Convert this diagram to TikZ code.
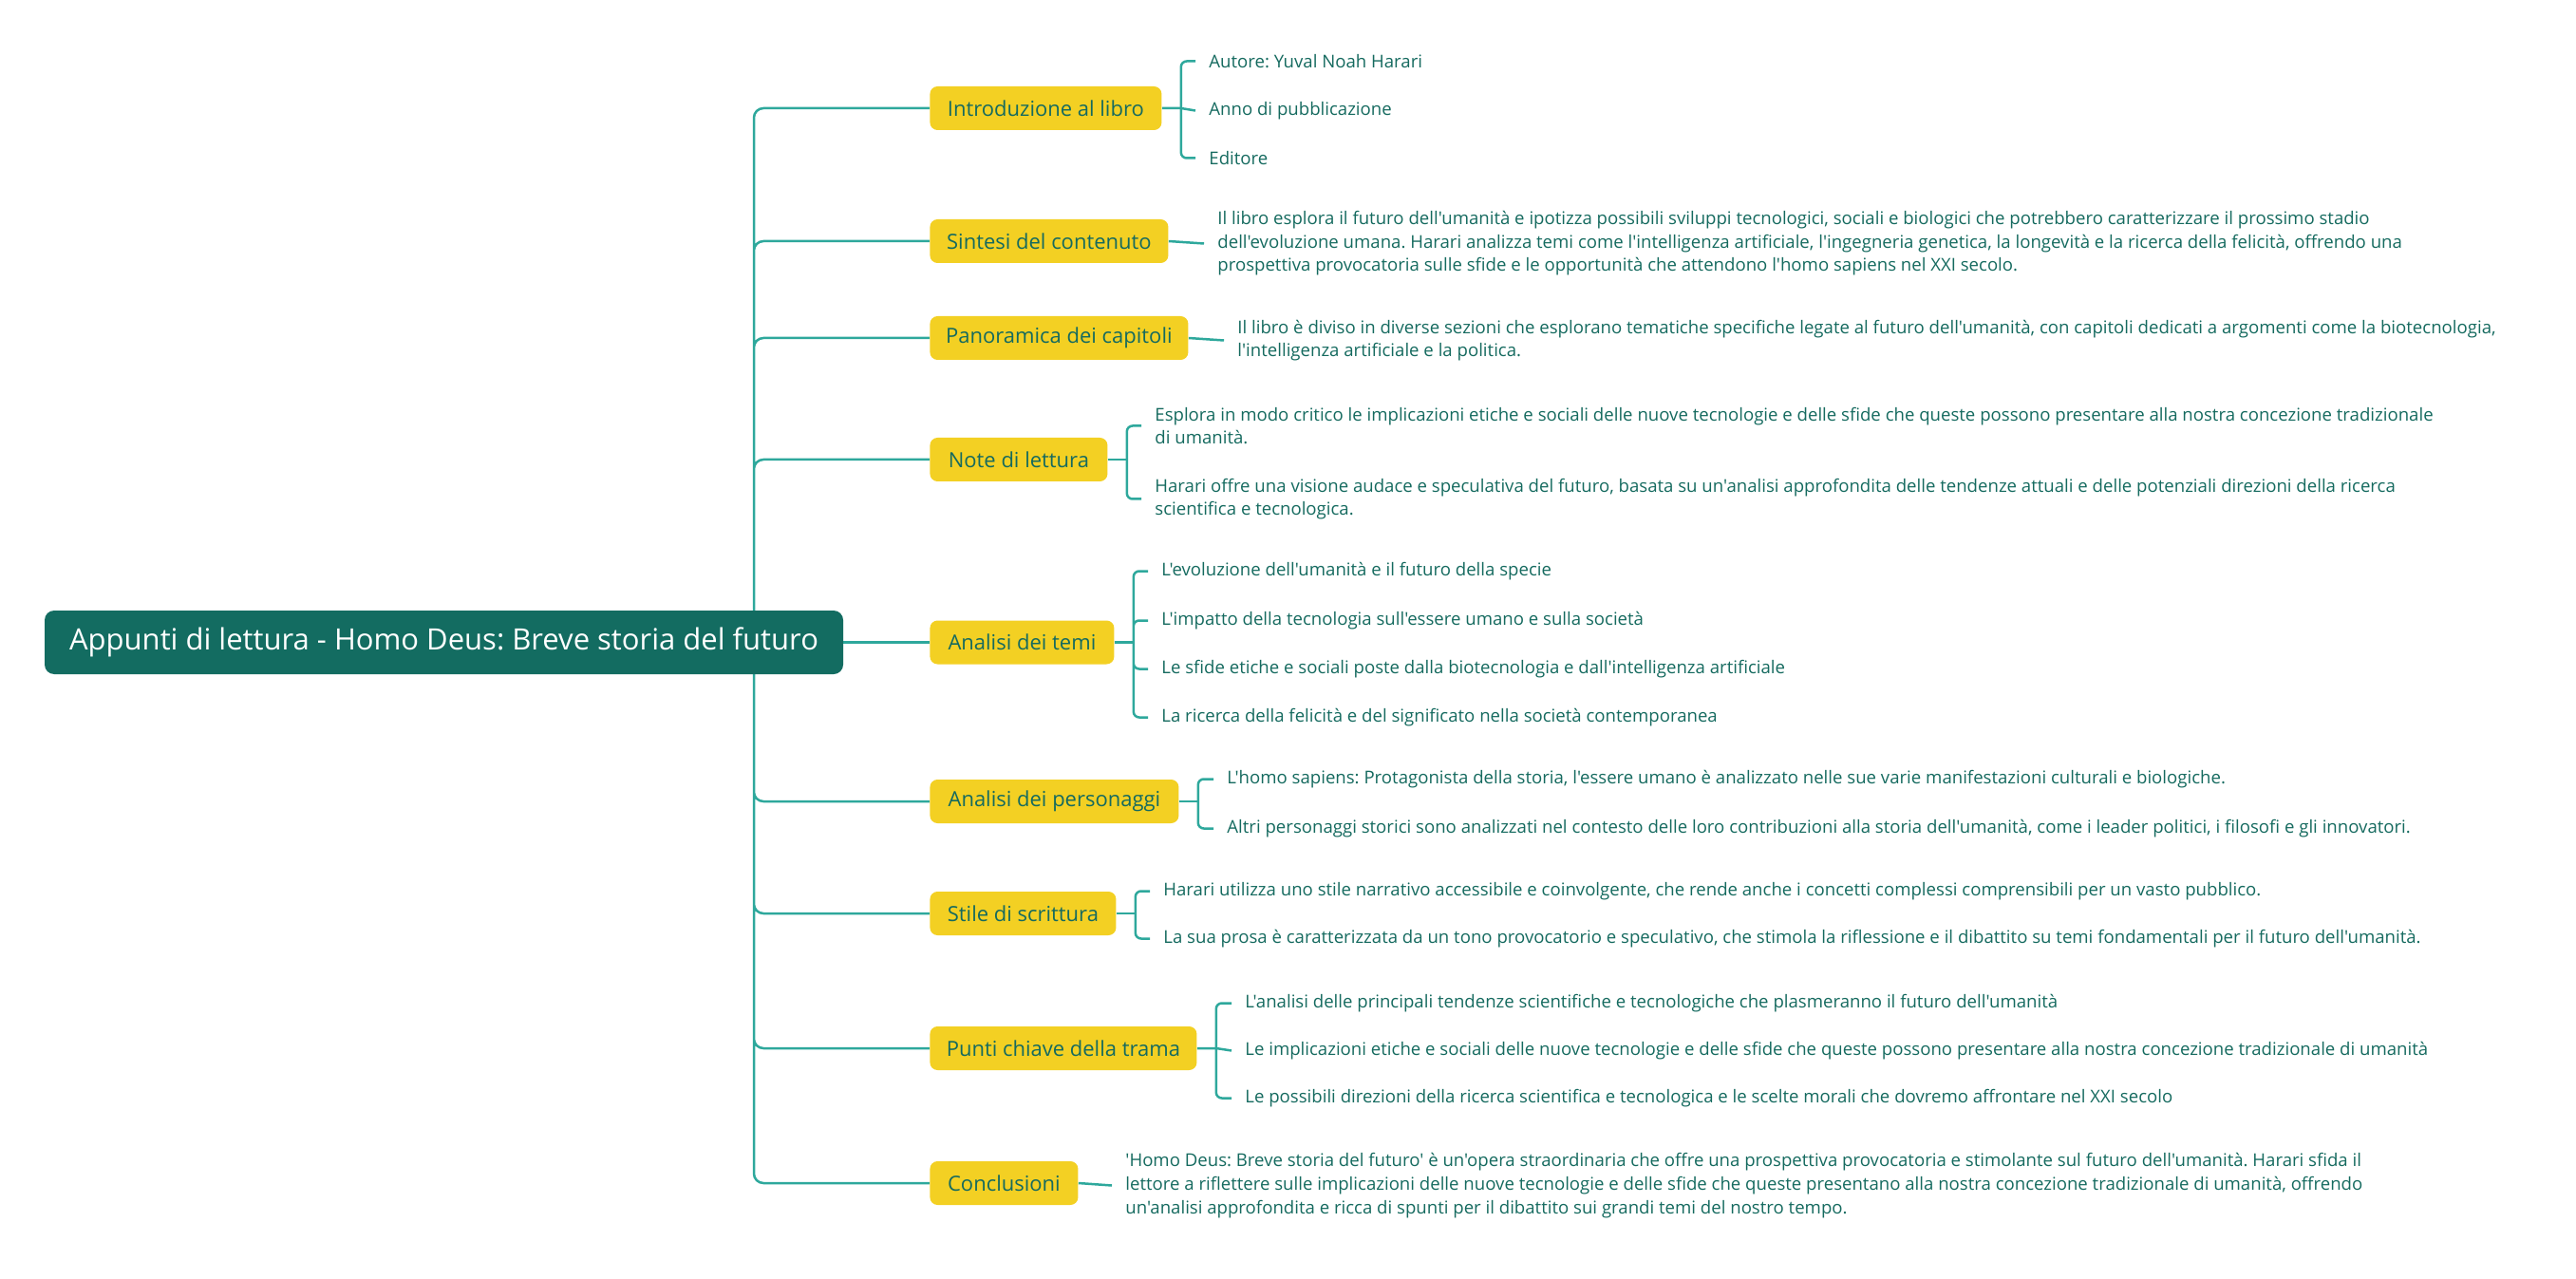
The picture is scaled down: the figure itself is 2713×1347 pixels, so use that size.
\documentclass[tikz,border=0pt]{standalone}
\usepackage{fontspec}
\setmainfont{Open Sans}[Ligatures=TeXOff]
\usetikzlibrary{backgrounds}
\definecolor{deepteal}{HTML}{136C61}
\definecolor{bookyellow}{HTML}{F3D023}
\definecolor{linkteal}{HTML}{2EA89C}
\definecolor{inkteal}{HTML}{156A5F}
\frenchspacing

\begin{document}
\begin{tikzpicture}[x=0.5pt, y=-0.5pt,
    link/.style={linkteal, line width=1.25pt},
    title/.style={fill=deepteal, text=white, rounded corners=5pt, minimum width=420.5pt, minimum height=33.5pt, font=\fontsize{15.5}{18}\selectfont},
    branch/.style={fill=bookyellow, text=inkteal, rounded corners=4pt, anchor=west, minimum height=23pt, inner xsep=0pt, font=\fontsize{11}{13}\selectfont},
    leaf/.style={text=inkteal, anchor=west, align=left, inner xsep=7pt, inner ysep=1pt, yshift=-1.25pt, font=\fontsize{9.3}{12.3}\selectfont}]
    \useasboundingbox (0,0) rectangle (2713,1347);
    \node[title] (root) at (467.5,676.5) {Appunti di lettura - Homo Deus: Breve storia del futuro};

    \node[branch, minimum width=122pt] (intro) at (979,114) {Introduzione al libro};
    \node[branch, minimum width=125.5pt] (sintesi) at (979,254) {Sintesi del contenuto};
    \node[branch, minimum width=136pt] (capitoli) at (979,356) {Panoramica dei capitoli};
    \node[branch, minimum width=93.5pt] (note) at (979,484) {Note di lettura};
    \node[branch, minimum width=97pt] (temi) at (979,676.5) {Analisi dei temi};
    \node[branch, minimum width=131pt] (personaggi) at (979,844) {Analisi dei personaggi};
    \node[branch, minimum width=98pt] (stile) at (979,962) {Stile di scrittura};
    \node[branch, minimum width=140.5pt] (trama) at (979,1104) {Punti chiave della trama};
    \node[branch, minimum width=78pt] (conclusioni) at (979,1246) {Conclusioni};

    \node[leaf] (intro1) at (1259,62) {Autore: Yuval Noah Harari};
    \node[leaf] (intro2) at (1259,114) {Anno di pubblicazione};
    \node[leaf] (intro3) at (1259,164) {Editore};

    \node[leaf] (sintesi1) at (1268,254) {Il libro esplora il futuro dell'umanità e ipotizza possibili sviluppi tecnologici, sociali e biologici che potrebbero caratterizzare il prossimo stadio\\dell'evoluzione umana. Harari analizza temi come l'intelligenza artificiale, l'ingegneria genetica, la longevità e la ricerca della felicità, offrendo una\\prospettiva provocatoria sulle sfide e le opportunità che attendono l'homo sapiens nel XXI secolo.};

    \node[leaf] (capitoli1) at (1289,356) {Il libro è diviso in diverse sezioni che esplorano tematiche specifiche legate al futuro dell'umanità, con capitoli dedicati a argomenti come la biotecnologia,\\l'intelligenza artificiale e la politica.};

    \node[leaf] (note1) at (1202,446) {Esplora in modo critico le implicazioni etiche e sociali delle nuove tecnologie e delle sfide che queste possono presentare alla nostra concezione tradizionale\\di umanità.};
    \node[leaf] (note2) at (1202,523) {Harari offre una visione audace e speculativa del futuro, basata su un'analisi approfondita delle tendenze attuali e delle potenziali direzioni della ricerca\\scientifica e tecnologica.};

    \node[leaf] (temi1) at (1209,599) {L'evoluzione dell'umanità e il futuro della specie};
    \node[leaf] (temi2) at (1209,651) {L'impatto della tecnologia sull'essere umano e sulla società};
    \node[leaf] (temi3) at (1209,702) {Le sfide etiche e sociali poste dalla biotecnologia e dall'intelligenza artificiale};
    \node[leaf] (temi4) at (1209,753) {La ricerca della felicità e del significato nella società contemporanea};

    \node[leaf] (personaggi1) at (1278,818) {L'homo sapiens: Protagonista della storia, l'essere umano è analizzato nelle sue varie manifestazioni culturali e biologiche.};
    \node[leaf] (personaggi2) at (1278,870) {Altri personaggi storici sono analizzati nel contesto delle loro contribuzioni alla storia dell'umanità, come i leader politici, i filosofi e gli innovatori.};

    \node[leaf] (stile1) at (1211,936) {Harari utilizza uno stile narrativo accessibile e coinvolgente, che rende anche i concetti complessi comprensibili per un vasto pubblico.};
    \node[leaf] (stile2) at (1211,986) {La sua prosa è caratterizzata da un tono provocatorio e speculativo, che stimola la riflessione e il dibattito su temi fondamentali per il futuro dell'umanità.};

    \node[leaf] (trama1) at (1297,1054) {L'analisi delle principali tendenze scientifiche e tecnologiche che plasmeranno il futuro dell'umanità};
    \node[leaf] (trama2) at (1297,1104) {Le implicazioni etiche e sociali delle nuove tecnologie e delle sfide che queste possono presentare alla nostra concezione tradizionale di umanità};
    \node[leaf] (trama3) at (1297,1154) {Le possibili direzioni della ricerca scientifica e tecnologica e le scelte morali che dovremo affrontare nel XXI secolo};

    \node[leaf] (conclusioni1) at (1171,1246) {'Homo Deus: Breve storia del futuro' è un'opera straordinaria che offre una prospettiva provocatoria e stimolante sul futuro dell'umanità. Harari sfida il\\lettore a riflettere sulle implicazioni delle nuove tecnologie e delle sfide che queste presentano alla nostra concezione tradizionale di umanità, offrendo\\un'analisi approfondita e ricca di spunti per il dibattito sui grandi temi del nostro tempo.};

    \begin{scope}[on background layer]
        \coordinate (trunk) at (794,676.5);
        \draw[link, rounded corners=5pt] (trunk) |- (intro.west) (trunk) |- (sintesi.west) (trunk) |- (capitoli.west) (trunk) |- (note.west)
            (trunk) |- (personaggi.west) (trunk) |- (stile.west) (trunk) |- (trama.west) (trunk) |- (conclusioni.west);
        \draw[link] (root.east) -- (temi.west);

        \draw[link] (intro.east) -- ++(20,0) coordinate (introb) -- (intro2.west);
        \draw[link, rounded corners=3pt] (introb) |- (intro1.west) (introb) |- (intro3.west);
        \draw[link] (sintesi.east) -- (sintesi1.west);
        \draw[link] (capitoli.east) -- (capitoli1.west);
        \draw[link] (note.east) -- ++(20,0) coordinate (noteb);
        \draw[link, rounded corners=3pt] (noteb) |- (note1.west) (noteb) |- (note2.west);
        \draw[link] (temi.east) -- ++(20,0) coordinate (temib);
        \draw[link, rounded corners=3pt] (temib) |- (temi1.west) (temib) |- (temi2.west) (temib) |- (temi3.west) (temib) |- (temi4.west);
        \draw[link] (personaggi.east) -- ++(20,0) coordinate (personaggib);
        \draw[link, rounded corners=3pt] (personaggib) |- (personaggi1.west) (personaggib) |- (personaggi2.west);
        \draw[link] (stile.east) -- ++(20,0) coordinate (stileb);
        \draw[link, rounded corners=3pt] (stileb) |- (stile1.west) (stileb) |- (stile2.west);
        \draw[link] (trama.east) -- ++(20,0) coordinate (tramab) -- (trama2.west);
        \draw[link, rounded corners=3pt] (tramab) |- (trama1.west) (tramab) |- (trama3.west);
        \draw[link] (conclusioni.east) -- (conclusioni1.west);
    \end{scope}
\end{tikzpicture}
\end{document}
